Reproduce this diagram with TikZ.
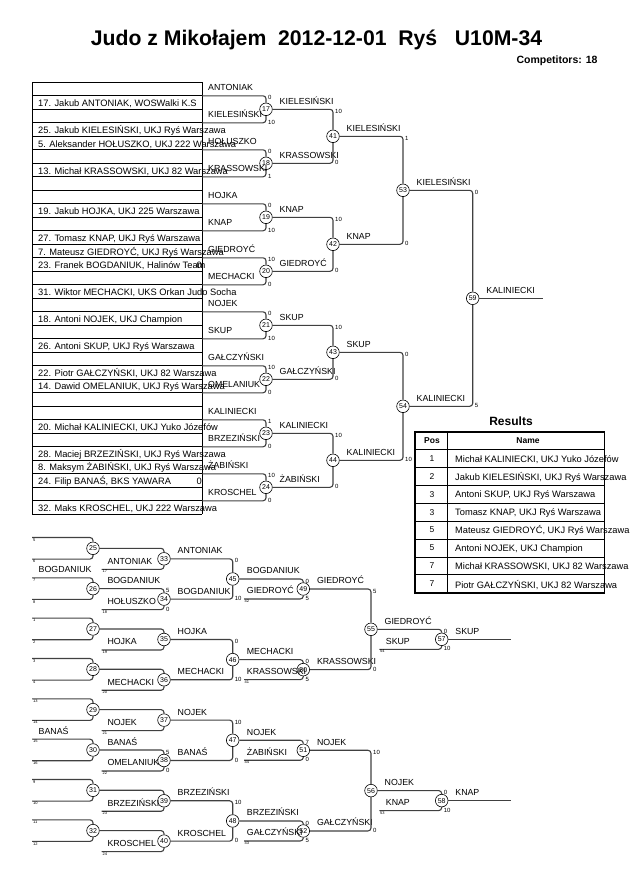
\documentclass[tikz,border=0pt]{standalone}
\usepackage{fontspec}
\setmainfont{Liberation Sans}
\usetikzlibrary{positioning}

\begin{document}
\begin{tikzpicture}[x=1pt,y=-1pt,
		fight/.style={circle,draw=black,fill=white,line width=0.6pt,inner sep=0pt,minimum size=12.6pt,font=\fontsize{7}{7}\selectfont},
		wire/.style={draw=black!75,line width=1.1pt,rounded corners=3pt},
		rule/.style={draw=black,line width=0.8pt},
		who/.style={anchor=base west,inner sep=0pt,font=\fontsize{8.8}{9}\selectfont},
		entry/.style={anchor=base west,inner sep=0pt,font=\fontsize{9.3}{10}\selectfont},
		pts/.style={anchor=west,inner sep=0pt,font=\fontsize{6}{6}\selectfont},
		from/.style={anchor=north west,inner sep=0pt,font=\fontsize{4}{4}\selectfont}
	]
	\useasboundingbox (0,0) rectangle (630,891);

	\node[font=\bfseries\fontsize{21.2}{22}\selectfont] (title) at (316.5,40) {Judo z Mikołajem\ \ 2012-12-01\ \ Ryś\ \ \ U10M-34};
	\node[anchor=east,font=\bfseries\fontsize{10.5}{11}\selectfont] (count) at (601,61) {Competitors: 18};

	% list of competitors
	\foreach \i in {0,...,32}
		\draw[rule] (32,82.3+13.5*\i) -- (202,82.3+13.5*\i);
	\draw[rule] (32,82.3) -- (32,514.3);
	\draw[rule] (202,82.3) -- (202,514.3);

	\node[entry] (e1) at (38,106.8) {17. Jakub ANTONIAK, WOSWalki K.S};
	\node[entry] (e3) at (38,133.8) {25. Jakub KIELESIŃSKI, UKJ Ryś Warszawa};
	\node[entry] (e4) at (38,147.3) {5. Aleksander HOŁUSZKO, UKJ 222 Warszawa};
	\node[entry] (e6) at (38,174.3) {13. Michał KRASSOWSKI, UKJ 82 Warszawa};
	\node[entry] (e9) at (38,214.8) {19. Jakub HOJKA, UKJ 225 Warszawa};
	\node[entry] (e11) at (38,241.8) {27. Tomasz KNAP, UKJ Ryś Warszawa};
	\node[entry] (e12) at (38,255.3) {7. Mateusz GIEDROYĆ, UKJ Ryś Warszawa};
	\node[entry] (e13) at (38,268.8) {23. Franek BOGDANIUK, Halinów Team};
	\node[entry,anchor=base east] (z13) at (202,268.8) {0};
	\node[entry] (e15) at (38,295.8) {31. Wiktor MECHACKI, UKS Orkan Judo Socha};
	\node[entry] (e17) at (38,322.8) {18. Antoni NOJEK, UKJ Champion};
	\node[entry] (e19) at (38,349.8) {26. Antoni SKUP, UKJ Ryś Warszawa};
	\node[entry] (e21) at (38,376.8) {22. Piotr GAŁCZYŃSKI, UKJ 82 Warszawa};
	\node[entry] (e22) at (38,389.3) {14. Dawid OMELANIUK, UKJ Ryś Warszawa};
	\node[entry] (e25) at (38,430.8) {20. Michał KALINIECKI, UKJ Yuko Józefów};
	\node[entry] (e27) at (38,457.8) {28. Maciej BRZEZIŃSKI, UKJ Ryś Warszawa};
	\node[entry] (e28) at (38,470.3) {8. Maksym ŻABIŃSKI, UKJ Ryś Warszawa};
	\node[entry] (e29) at (38,484.8) {24. Filip BANAŚ, BKS YAWARA};
	\node[entry,anchor=base east] (z29) at (202,484.8) {0};
	\node[entry] (e31) at (38,511.8) {32. Maks KROSCHEL, UKJ 222 Warszawa};

	% main draw
	\foreach \k/\n/\ta/\tb/\sa/\sb/\w in {
			0/17/ANTONIAK/KIELESIŃSKI/0/10/KIELESIŃSKI,
			1/18/HOŁUSZKO/KRASSOWSKI/0/1/KRASSOWSKI,
			2/19/HOJKA/KNAP/0/10/KNAP,
			3/20/GIEDROYĆ/MECHACKI/10/0/GIEDROYĆ,
			4/21/NOJEK/SKUP/0/10/SKUP,
			5/22/GAŁCZYŃSKI/OMELANIUK/10/0/GAŁCZYŃSKI,
			6/23/KALINIECKI/BRZEZIŃSKI/1/0/KALINIECKI,
			7/24/ŻABIŃSKI/KROSCHEL/10/0/ŻABIŃSKI}{
		\pgfmathsetmacro{\y}{109.3+54*\k}
		\node[fight] (m\n) at (266,\y) {\n};
		\coordinate (a\n) at (202,\y-13.5);
		\coordinate (b\n) at (202,\y+13.5);
		\draw[wire] (a\n) -| (m\n);
		\draw[wire] (b\n) -| (m\n);
		\node[who] (ta\n) at (208,\y-18.5) {\ta};
		\node[who] (tb\n) at (208,\y+8.5) {\tb};
		\node[pts] (sa\n) at (268,\y-11.5) {\sa};
		\node[pts] (sb\n) at (268,\y+13) {\sb};
		\node[who] (w\n) at (279.5,\y-5) {\w};
	}
	\foreach \j/\n/\p/\q/\sa/\sb/\w in {
			0/41/17/18/10/0/KIELESIŃSKI,
			1/42/19/20/10/0/KNAP,
			2/43/21/22/10/0/SKUP,
			3/44/23/24/10/0/KALINIECKI}{
		\pgfmathsetmacro{\y}{136.3+108*\j}
		\node[fight] (m\n) at (333,\y) {\n};
		\draw[wire] (m\p) -| (m\n);
		\draw[wire] (m\q) -| (m\n);
		\node[pts] (sa\n) at (335,\y-25) {\sa};
		\node[pts] (sb\n) at (335,\y+26.5) {\sb};
		\node[who] (w\n) at (346.5,\y-5) {\w};
	}
	\node[fight] (m53) at (403,190.3) {53};
	\node[fight] (m54) at (403,406.3) {54};
	\node[fight] (m59) at (472.7,298.3) {59};
	\coordinate (e59) at (543,298.3);
	\draw[wire] (m41) -| (m53);
	\draw[wire] (m42) -| (m53);
	\draw[wire] (m43) -| (m54);
	\draw[wire] (m44) -| (m54);
	\draw[wire] (m53) -| (m59);
	\draw[wire] (m54) -| (m59);
	\draw[wire] (m59) -- (e59);
	\node[pts] (sa53) at (405,138.3) {1};
	\node[pts] (sb53) at (405,243.8) {0};
	\node[pts] (sa54) at (405,354.3) {0};
	\node[pts] (sb54) at (405,459.8) {10};
	\node[pts] (sa59) at (474.7,192.3) {0};
	\node[pts] (sb59) at (474.7,405.8) {5};
	\node[who] (w53) at (416.5,185.3) {KIELESIŃSKI};
	\node[who] (w54) at (416.5,401.3) {KALINIECKI};
	\node[who] (w59) at (486.2,293.3) {KALINIECKI};

	% results
	\node[font=\bfseries\fontsize{12}{12}\selectfont] (results) at (511,421) {Results};
	\node[font=\bfseries\fontsize{8.5}{9}\selectfont] (hpos) at (432,440.6) {Pos};
	\node[font=\bfseries\fontsize{8.5}{9}\selectfont] (hname) at (528,440.6) {Name};
	\foreach \i/\p in {1/1,2/2,3/3,4/3,5/5,6/5,7/7,8/7}
		\node[font=\fontsize{8.5}{9}\selectfont] (p\i) at (432,431.7+17.89*\i+8.95) {\p};
	\node[entry,anchor=west] (r1) at (455,459.3) {Michał KALINIECKI, UKJ Yuko Józefów};
	\node[entry,anchor=west] (r2) at (455,477.2) {Jakub KIELESIŃSKI, UKJ Ryś Warszawa};
	\node[entry,anchor=west] (r3) at (455,495.1) {Antoni SKUP, UKJ Ryś Warszawa};
	\node[entry,anchor=west] (r4) at (455,513.0) {Tomasz KNAP, UKJ Ryś Warszawa};
	\node[entry,anchor=west] (r5) at (455,530.9) {Mateusz GIEDROYĆ, UKJ Ryś Warszawa};
	\node[entry,anchor=west] (r6) at (455,548.8) {Antoni NOJEK, UKJ Champion};
	\node[entry,anchor=west] (r7) at (455,566.7) {Michał KRASSOWSKI, UKJ 82 Warszawa};
	\node[entry,anchor=west] (r8) at (455,584.6) {Piotr GAŁCZYŃSKI, UKJ 82 Warszawa};
	\foreach \i in {1,...,8}
		\draw[rule] (415,431.7+17.89*\i) -- (604.3,431.7+17.89*\i);
	\draw[rule] (447.7,431.7) -- (447.7,592.7);
	\draw[line width=1.6pt] (415,431.7) rectangle (604.3,592.7);

	% repechage
	\foreach \k/\n/\oa/\ob in {0/25/5/6,1/26/7/8,2/27/1/2,3/28/3/4,4/29/13/14,5/30/15/16,6/31/9/10,7/32/11/12}{
		\pgfmathsetmacro{\y}{548.3+40.33*\k}
		\node[fight] (m\n) at (93,\y) {\n};
		\coordinate (a\n) at (32,\y-10.8);
		\coordinate (b\n) at (32,\y+10.8);
		\draw[wire] (a\n) -| (m\n);
		\draw[wire] (b\n) -| (m\n);
		\node[from] (oa\n) at (33,\y-10.2) {\oa};
		\node[from] (ob\n) at (33,\y+11.4) {\ob};
	}
	\node[who] (ta26) at (38.5,572.8) {BOGDANIUK};
	\node[who] (ta30) at (38.5,734.2) {BANAŚ};
	\foreach \k/\n/\p/\nm/\o/\w in {
			0/33/25/ANTONIAK/17/ANTONIAK,
			1/34/26/HOŁUSZKO/18/BOGDANIUK,
			2/35/27/HOJKA/19/HOJKA,
			3/36/28/MECHACKI/20/MECHACKI,
			4/37/29/NOJEK/21/NOJEK,
			5/38/30/OMELANIUK/22/BANAŚ,
			6/39/31/BRZEZIŃSKI/23/BRZEZIŃSKI,
			7/40/32/KROSCHEL/24/KROSCHEL}{
		\pgfmathsetmacro{\y}{548.3+40.33*\k}
		\node[fight] (m\n) at (164,\y+10.5) {\n};
		\coordinate (b\n) at (101.5,\y+21);
		\draw[wire] (m\p) -| (m\n);
		\draw[wire] (b\n) -| (m\n);
		\node[who] (tb\n) at (107.3,\y+16) {\nm};
		\node[from] (ob\n) at (102.5,\y+21.6) {\o};
		\node[who] (w\n) at (177.5,\y+5.5) {\w};
	}
	\node[who] (wa34) at (107.3,583.6) {BOGDANIUK};
	\node[who] (wa38) at (107.3,745.0) {BANAŚ};
	\node[pts] (sa34) at (166,590.6) {5};
	\node[pts] (sb34) at (166,609.1) {0};
	\node[pts] (sa38) at (166,752.0) {5};
	\node[pts] (sb38) at (166,770.5) {0};
	\foreach \j/\n/\p/\q/\sa/\sb/\w in {
			0/45/33/34/0/10/BOGDANIUK,
			1/46/35/36/0/10/MECHACKI,
			2/47/37/38/10/0/NOJEK,
			3/48/39/40/10/0/BRZEZIŃSKI}{
		\pgfmathsetmacro{\y}{548.3+40.33*(2*\j+0.5)+10.5}
		\node[fight] (m\n) at (232.7,\y) {\n};
		\draw[wire] (m\p) -| (m\n);
		\draw[wire] (m\q) -| (m\n);
		\node[pts] (sa\n) at (234.7,\y-18.2) {\sa};
		\node[pts] (sb\n) at (234.7,\y+19.7) {\sb};
		\node[who] (w\n) at (246.7,\y-5) {\w};
	}
	% yshift is on the page, so + is up
	\foreach \p/\n/\nm/\o/\sa/\sb/\w in {
			45/49/GIEDROYĆ/42/0/5/GIEDROYĆ,
			46/50/KRASSOWSKI/41/0/5/KRASSOWSKI,
			47/51/ŻABIŃSKI/44/7/0/NOJEK,
			48/52/GAŁCZYŃSKI/43/0/5/GAŁCZYŃSKI}{
		\path (m\p) ++(0,10) coordinate (c\n) ++(0,10) coordinate (y\n);
		\node[fight] (m\n) at (c\n -| 303.3,0) {\n};
		\coordinate (b\n) at (y\n -| 244,0);
		\draw[wire] (m\p) -| (m\n);
		\draw[wire] (b\n) -| (m\n);
		\node[who] (tb\n) at ([yshift=5pt]b\n -| 246.7,0) {\nm};
		\node[from] (ob\n) at ([yshift=-0.6pt]b\n -| 244.5,0) {\o};
		\node[pts] (sa\n) at ([xshift=2pt,yshift=8pt]m\n.center) {\sa};
		\node[pts] (sb\n) at ([xshift=2pt,yshift=-9.5pt]m\n.center) {\sb};
		\node[who] (w\n) at ([xshift=13.5pt,yshift=5pt]m\n.center) {\w};
	}
	\node[fight] (m55) at (371,629.3) {55};
	\node[fight] (m56) at (371,790.6) {56};
	\draw[wire] (m49) -| (m55);
	\draw[wire] (m50) -| (m55);
	\draw[wire] (m51) -| (m56);
	\draw[wire] (m52) -| (m56);
	\node[pts] (sa55) at (373,591) {5};
	\node[pts] (sb55) at (373,669.2) {0};
	\node[pts] (sa56) at (373,752.3) {10};
	\node[pts] (sb56) at (373,830.5) {0};
	\node[who] (w55) at (384.5,624.3) {GIEDROYĆ};
	\node[who] (w56) at (384.5,785.6) {NOJEK};
	\node[fight] (m57) at (441.7,639.3) {57};
	\node[fight] (m58) at (441.7,800.6) {58};
	\coordinate (b57) at (379.3,649.3);
	\coordinate (b58) at (379.3,810.6);
	\coordinate (e57) at (511,639.3);
	\coordinate (e58) at (511,800.6);
	\draw[wire] (m55) -| (m57);
	\draw[wire] (b57) -| (m57);
	\draw[wire] (m56) -| (m58);
	\draw[wire] (b58) -| (m58);
	\draw[wire] (m57) -- (e57);
	\draw[wire] (m58) -- (e58);
	\node[who] (tb57) at (385.7,644.3) {SKUP};
	\node[who] (tb58) at (385.7,805.6) {KNAP};
	\node[from] (ob57) at (380,649.9) {54};
	\node[from] (ob58) at (380,811.2) {53};
	\node[pts] (sa57) at (443.7,631.3) {0};
	\node[pts] (sb57) at (443.7,648.8) {10};
	\node[pts] (sa58) at (443.7,792.6) {0};
	\node[pts] (sb58) at (443.7,810.1) {10};
	\node[who] (w57) at (455.2,634.3) {SKUP};
	\node[who] (w58) at (455.2,795.6) {KNAP};
\end{tikzpicture}
\end{document}
